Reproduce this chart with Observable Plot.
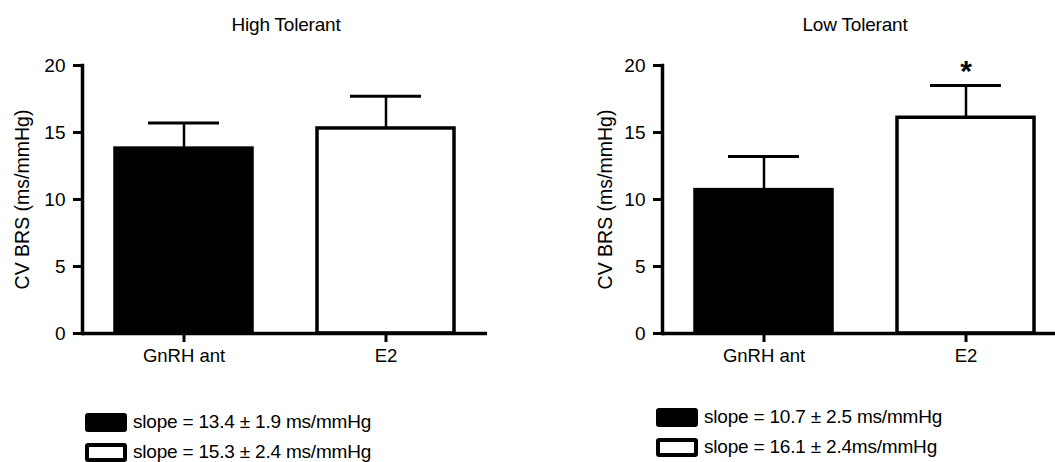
<!DOCTYPE html>
<html>
<head>
<meta charset="utf-8">
<script src="https://cdn.jsdelivr.net/npm/d3@7"></script>
<script src="https://cdn.jsdelivr.net/npm/@observablehq/plot@0.6"></script>
<style>
  html, body { margin: 0; padding: 0; background: #fff; }
  #wrap { position: relative; width: 1055px; height: 462px; overflow: hidden; font-family: "Liberation Sans", Arial, Helvetica, sans-serif; color: #000; }
  .panel { position: absolute; top: 0; width: 530px; height: 462px; }
  .panel svg { position: absolute; left: 0; top: 0; overflow: visible; }
  .title { position: absolute; top: 14px; font-size: 19px; transform: translateX(-50%); white-space: nowrap; letter-spacing: -0.2px; }
  .legend { position: absolute; font-size: 19px; letter-spacing: -0.2px; }
  .row { display: flex; align-items: center; height: 30px; white-space: nowrap; }
  .sw { display: inline-block; width: 42px; height: 19px; border-radius: 3px; box-sizing: border-box; margin-right: 6px; }
</style>
</head>
<body>
<div id="wrap"></div>
<script>
// ---- data ----
const groups = ["GnRH ant", "E2"];
const panelTitles = ["High Tolerant", "Low Tolerant"];
const highMeans = [13.8, 15.3];
const highSEM = [1.9, 2.4];
const lowMeans = [10.7, 16.1];
const lowSEM = [2.5, 2.4];
const highSig = [false, false];
const lowSig = [false, true];
const yTicks = [0, 5, 10, 15, 20];
const yLabel = "CV BRS (ms/mmHg)";
const highLegend = ["slope = 13.4 \u00b1 1.9 ms/mmHg", "slope = 15.3 \u00b1 2.4 ms/mmHg"];
const lowLegend = ["slope = 10.7 \u00b1 2.5 ms/mmHg", "slope = 16.1 \u00b1 2.4ms/mmHg"];
const groupColors = ["black", "white"];

const panels = [
  {title: panelTitles[0], means: highMeans, sem: highSEM, sig: highSig, legend: highLegend,
   left: 0, titleX: 286, legendX: 85, legendY: 407, labelDx: -60},
  {title: panelTitles[1], means: lowMeans, sem: lowSEM, sig: lowSig, legend: lowLegend,
   left: 580, titleX: 275, legendX: 76, legendY: 402, labelDx: -57}
];

const wrap = document.getElementById("wrap");
const font = '"Liberation Sans", Arial, Helvetica, sans-serif';

for (const p of panels) {
  const rows = groups.map((g, i) => ({group: g, mean: p.means[i], top: p.means[i] + p.sem[i], sig: p.sig[i]}));
  const div = document.createElement("div");
  div.className = "panel";
  div.style.left = p.left + "px";

  const chart = Plot.plot({
    width: 530,
    height: 370,
    marginLeft: 82,
    marginRight: 43,
    marginTop: 65,
    marginBottom: 37,
    style: {fontFamily: font, fontSize: "19px", color: "black", background: "transparent", overflow: "visible"},
    x: {domain: groups, paddingInner: 0.32, paddingOuter: 0.16},
    y: {domain: [0, 20]},
    color: {domain: groups, range: groupColors},
    marks: [
      Plot.ruleX(rows, {x: "group", y1: "mean", y2: "top", stroke: "black", strokeWidth: 2.5}),
      Plot.tickY(rows, {x: "group", y: "top", stroke: "black", strokeWidth: 3, insetLeft: 33, insetRight: 33}),
      Plot.barY(rows, {x: "group", y: "mean", fill: "group", stroke: "black", strokeWidth: 3.5}),
      Plot.axisY({ticks: yTicks, tickSize: 9, strokeWidth: 3, tickPadding: 8, label: null, fontSize: 19}),
      Plot.axisX({tickSize: 9, strokeWidth: 3, tickPadding: 6, label: null, fontSize: 18.5}),
      Plot.frame({anchor: "left", stroke: "black", strokeWidth: 3.5}),
      Plot.ruleY([0], {stroke: "black", strokeWidth: 3.5}),
      Plot.text([yLabel], {text: d => d, frameAnchor: "left", textAnchor: "middle", lineAnchor: "middle", rotate: -90, dx: p.labelDx, fontSize: 19.5}),
      Plot.text(rows.filter(d => d.sig), {x: "group", y: "top", text: () => "*", dy: -14, fontSize: 30, fontWeight: "bold"})
    ]
  });
  div.appendChild(chart);

  const t = document.createElement("div");
  t.className = "title";
  t.style.left = p.titleX + "px";
  t.textContent = p.title;
  div.appendChild(t);

  const lg = document.createElement("div");
  lg.className = "legend";
  lg.style.left = p.legendX + "px";
  lg.style.top = p.legendY + "px";
  p.legend.forEach((txt, i) => {
    const r = document.createElement("div");
    r.className = "row";
    const sw = document.createElement("span");
    sw.className = "sw";
    sw.style.background = groupColors[i];
    if (groupColors[i] === "white") sw.style.border = "4px solid black";
    r.appendChild(sw);
    const s = document.createElement("span");
    s.textContent = txt;
    r.appendChild(s);
    lg.appendChild(r);
  });
  div.appendChild(lg);

  wrap.appendChild(div);
}
</script>
</body>
</html>
